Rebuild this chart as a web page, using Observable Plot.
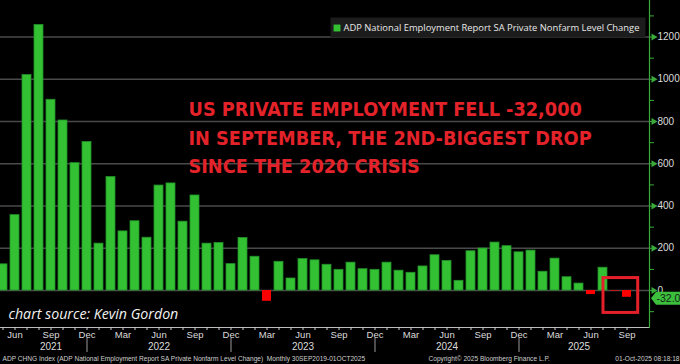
<!DOCTYPE html>
<html>
<head>
<meta charset="utf-8">
<script src="https://cdn.jsdelivr.net/npm/d3@7"></script>
<script src="https://cdn.jsdelivr.net/npm/@observablehq/plot@0.6"></script>
<style>
  html, body { margin: 0; padding: 0; background: #000; }
  #chart { width: 680px; height: 364px; overflow: hidden; }
</style>
</head>
<body>
<div id="chart"></div>
<script>
// ---- data ----
const months = d3.utcMonths(new Date(Date.UTC(2021, 4, 1)), new Date(Date.UTC(2025, 9, 1)))
  .map(d => d3.utcFormat("%Y-%m")(d));            // May 2021 .. Sep 2025
const values = [124, 357, 1020, 1257, 903, 805, 603, 703, 222, 537,
                280, 328, 250, 497, 507, 326, 450, 222, 225, 125,
                249, 160, -51, 136, 57, 149, 143, 122, 98, 132,
                101, 98, 132, 94, 84, 114, 167, 140, 46, 186,
                199, 227, 210, 181, 189, 89, 151, 63, 33, -19,
                108, -3, -32];
const monthAbbr = {"03": "Mar", "06": "Jun", "09": "Sep", "12": "Dec"};
const quarterMonths = months.filter(m => monthAbbr[m.slice(5)]);
const yearSeparators = ["2021-12", "2022-12", "2023-12", "2024-12"];
const yearLabels = ["2021", "2022", "2023", "2024", "2025"];
const yearAnchors = ["2021-09", "2022-06", "2023-06", "2024-06", "2025-05"];
const majorTicks = [0, 200, 400, 600, 800, 1000, 1200];
const minorTicks = [-100, 100, 300, 500, 700, 900, 1100, 1300];
const lastValue = [-32];
const highlight = [{month: "2025-08", top: 59, bottom: -106}];
const annotation = ["US PRIVATE EMPLOYMENT FELL -32,000", "IN SEPTEMBER, THE 2ND-BIGGEST DROP", "SINCE THE 2020 CRISIS"];
const legendLabel = "ADP National Employment Report SA Private Nonfarm Level Change";
const sourceNote = "chart source: Kevin Gordon";
const footerLeft = "ADP CHNG Index (ADP National Employment Report SA Private Nonfarm Level Change)  Monthly 30SEP2019-01OCT2025";
const footerMid = "Copyright\u00A9 2025 Bloomberg Finance L.P.";
const footerRight = "01-Oct-2025 08:18:18";

const data = months.map((m, i) => ({month: m, value: values[i]}));

// ---- style ----
const GREEN = "#33c133", GREEN_EDGE = "#22902a", RED = "#ff0000", ANNO_RED = "#e3222a";
const AXIS_GREEN = "#3aaa3a", GRID = "#4a4a4a", LABEL = "#dcdcdc";
const FONT = "Liberation Sans, Arial, sans-serif";

const legendBox = {draw(ctx) { ctx.rect(-157.5, -10, 315, 20); }};
const tagShape = {draw(ctx) {
  ctx.moveTo(0, 0); ctx.lineTo(5, -6.5); ctx.lineTo(40, -6.5);
  ctx.lineTo(40, 6.5); ctx.lineTo(5, 6.5); ctx.closePath();
}};

const chart = Plot.plot({
  width: 680,
  height: 364,
  marginTop: 0,
  marginBottom: 37,
  marginLeft: 0,
  marginRight: 31,
  style: {background: "#000", color: LABEL, fontFamily: FONT},
  x: {type: "band", domain: months, range: [-7.15, 635.95], paddingInner: 0.27, paddingOuter: 0, label: null},
  y: {domain: [-175, 1373], label: null},
  marks: [
    Plot.gridY({ticks: majorTicks, stroke: GRID, strokeOpacity: 1, strokeWidth: 1.5}),
    Plot.barY(data.filter(d => d.value >= 0), {x: "month", y: "value", fill: GREEN, stroke: GREEN_EDGE, strokeWidth: 0.8}),
    Plot.barY(data.filter(d => d.value < 0), {x: "month", y: "value", fill: RED}),
    // highlight box
    Plot.barY(highlight, {x: "month", y1: "top", y2: "bottom", fill: "none", stroke: "#e5202a", strokeWidth: 3,
      insetLeft: -7, insetRight: -18.7}),
    // axes
    Plot.frame({anchor: "bottom", stroke: "#bdbdbd"}),
    Plot.frame({anchor: "right", stroke: AXIS_GREEN, strokeWidth: 1.2}),
    Plot.axisX({ticks: months, tickSize: 3, tickFormat: () => "", stroke: "#cfcfcf", label: null}),
    Plot.axisX({ticks: quarterMonths, tickSize: 0, tickPadding: 4, tickFormat: m => monthAbbr[m.slice(5)],
      fill: LABEL, fontSize: 9.5, label: null}),
    Plot.axisX({ticks: yearSeparators, tickSize: 14, dy: 11, tickFormat: () => "", stroke: "#9a9a9a", label: null}),
    Plot.text(yearLabels, {x: (d, i) => yearAnchors[i], text: d => d, frameAnchor: "bottom", dy: 19,
      lineAnchor: "middle", fill: LABEL, fontSize: 10}),
    Plot.axisY({anchor: "right", ticks: minorTicks, tickSize: 4, tickFormat: () => "", stroke: AXIS_GREEN, label: null}),
    Plot.axisY({anchor: "right", ticks: majorTicks, tickSize: 5, tickPadding: 3, stroke: AXIS_GREEN,
      tickFormat: d => String(d), fill: LABEL, fontSize: 10, label: null}),
    Plot.dot(majorTicks, {y: d => d, frameAnchor: "right", dx: 4, symbol: "triangle", rotate: 90, r: 2.6, fill: AXIS_GREEN}),
    // last value tag
    Plot.dot(lastValue, {y: d => d, frameAnchor: "right", dx: 1.5, dy: 1, symbol: tagShape, r: 1, fill: "#3cbf3c"}),
    Plot.text(lastValue, {y: d => d, text: d => d.toFixed(1), frameAnchor: "right", dx: 7, dy: 1, textAnchor: "start",
      fill: "#142414", fontSize: 10.5}),
    // legend
    Plot.dot([legendLabel], {frameAnchor: "top-left", dx: 487.5, dy: 27, symbol: legendBox, r: 1, fill: "#1c1c1c"}),
    Plot.dot([legendLabel], {frameAnchor: "top-left", dx: 336.5, dy: 27.5, symbol: "square", r: 3.9, fill: GREEN}),
    Plot.text([legendLabel], {frameAnchor: "top-left", dx: 343, dy: 27.5, textAnchor: "start", lineAnchor: "middle",
      fill: "#e8e8e8", fontSize: 9.4, fontFamily: "Open Sans, sans-serif"}),
    // annotation
    Plot.text([annotation.join("\n")], {frameAnchor: "top-left", dx: 188, dy: 96, textAnchor: "start", lineAnchor: "top",
      lineHeight: 1.425, fill: ANNO_RED, fontSize: 19.7, fontWeight: "bold",
      fontFamily: "Liberation Sans Narrow, DejaVu Sans Condensed, sans-serif"}),
    Plot.text([sourceNote], {frameAnchor: "bottom-left", dx: 8, dy: -9, textAnchor: "start", lineAnchor: "bottom",
      fill: "#f2f2f2", fontSize: 14.2, fontStyle: "italic", fontFamily: "Open Sans, sans-serif"}),
    // footer
    Plot.text([footerLeft], {frameAnchor: "bottom-left", dx: 2, dy: 31, textAnchor: "start", lineAnchor: "middle",
      fill: "#cfcfcf", fontSize: 6.6}),
    Plot.text([footerMid], {frameAnchor: "bottom-left", dx: 428, dy: 31, textAnchor: "start", lineAnchor: "middle",
      fill: "#cfcfcf", fontSize: 6.6}),
    Plot.text([footerRight], {frameAnchor: "bottom-right", dx: 30, dy: 31, textAnchor: "end", lineAnchor: "middle",
      fill: "#cfcfcf", fontSize: 6.6})
  ]
});
document.getElementById("chart").append(chart);
</script>
</body>
</html>
